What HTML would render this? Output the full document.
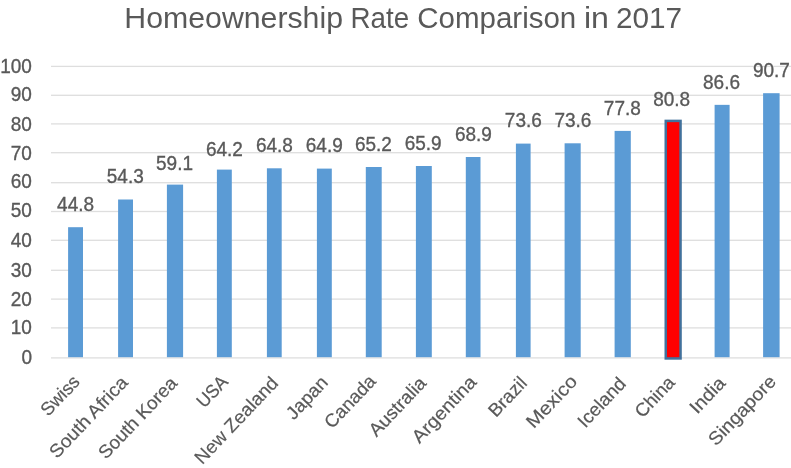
<!DOCTYPE html>
<html><head><meta charset="utf-8"><style>
html,body{margin:0;padding:0;background:#fff;width:791px;height:468px;overflow:hidden}
svg{display:block;will-change:transform}
text{font-family:"Liberation Sans",sans-serif;fill:#595959;stroke:#595959;stroke-width:0.35px}
.t{font-size:19.6px}
.l{font-size:18.5px;stroke-width:0.2px}
.title{font-size:30.0px;stroke-width:0.0px}
</style></head><body>
<svg width="791" height="468" viewBox="0 0 791 468">
<rect x="51" y="357.25" width="749" height="1.3" fill="#dedede"/>
<rect x="51" y="327.25" width="749" height="1.3" fill="#dedede"/>
<rect x="51" y="298.45" width="749" height="1.3" fill="#dedede"/>
<rect x="51" y="269.65" width="749" height="1.3" fill="#dedede"/>
<rect x="51" y="239.65" width="749" height="1.3" fill="#dedede"/>
<rect x="51" y="210.85" width="749" height="1.3" fill="#dedede"/>
<rect x="51" y="182.05" width="749" height="1.3" fill="#dedede"/>
<rect x="51" y="152.05" width="749" height="1.3" fill="#dedede"/>
<rect x="51" y="123.25" width="749" height="1.3" fill="#dedede"/>
<rect x="51" y="94.65" width="749" height="1.3" fill="#dedede"/>
<rect x="51" y="65.75" width="749" height="1.3" fill="#dedede"/>
<text transform="translate(32.02,363.87) scale(0.97,1)" text-anchor="end" class="t" id="y0">0</text>
<text transform="translate(31.84,334.44) scale(0.97,1)" text-anchor="end" class="t" id="y10">10</text>
<text transform="translate(31.84,305.64) scale(0.97,1)" text-anchor="end" class="t" id="y20">20</text>
<text transform="translate(31.84,276.57) scale(0.97,1)" text-anchor="end" class="t" id="y30">30</text>
<text transform="translate(31.84,247.26) scale(0.97,1)" text-anchor="end" class="t" id="y40">40</text>
<text transform="translate(31.84,217.26) scale(0.97,1)" text-anchor="end" class="t" id="y50">50</text>
<text transform="translate(31.84,188.13) scale(0.97,1)" text-anchor="end" class="t" id="y60">60</text>
<text transform="translate(31.84,159.90) scale(0.97,1)" text-anchor="end" class="t" id="y70">70</text>
<text transform="translate(31.84,130.65) scale(0.97,1)" text-anchor="end" class="t" id="y80">80</text>
<text transform="translate(31.84,101.15) scale(0.97,1)" text-anchor="end" class="t" id="y90">90</text>
<text transform="translate(31.84,72.52) scale(0.97,1)" text-anchor="end" class="t" id="y100">100</text>
<rect x="68.10" y="227.20" width="14.90" height="130.00" fill="#5b9bd5"/>
<rect x="118.10" y="199.50" width="14.90" height="157.70" fill="#5b9bd5"/>
<rect x="166.90" y="184.60" width="16.20" height="172.60" fill="#5b9bd5"/>
<rect x="216.90" y="169.60" width="14.90" height="187.60" fill="#5b9bd5"/>
<rect x="266.90" y="168.30" width="14.80" height="188.90" fill="#5b9bd5"/>
<rect x="316.90" y="168.60" width="14.90" height="188.60" fill="#5b9bd5"/>
<rect x="365.80" y="167.00" width="15.90" height="190.20" fill="#5b9bd5"/>
<rect x="415.90" y="166.00" width="15.90" height="191.20" fill="#5b9bd5"/>
<rect x="465.80" y="157.00" width="14.70" height="200.20" fill="#5b9bd5"/>
<rect x="515.90" y="143.60" width="14.70" height="213.60" fill="#5b9bd5"/>
<rect x="564.60" y="143.30" width="16.10" height="213.90" fill="#5b9bd5"/>
<rect x="614.60" y="130.90" width="16.20" height="226.30" fill="#5b9bd5"/>
<rect x="665.75" y="120.90" width="14.80" height="237.55" fill="#ff0000" stroke="#41719c" stroke-width="2.5"/>
<rect x="714.60" y="104.85" width="15.00" height="252.35" fill="#5b9bd5"/>
<rect x="763.10" y="93.20" width="16.50" height="264.00" fill="#5b9bd5"/>
<text transform="translate(75.57,211.12) scale(0.97,1)" text-anchor="middle" class="t" id="d0">44.8</text>
<text transform="translate(125.25,183.28) scale(0.97,1)" text-anchor="middle" class="t" id="d1">54.3</text>
<text transform="translate(174.50,170.40) scale(0.97,1)" text-anchor="middle" class="t" id="d2">59.1</text>
<text transform="translate(224.37,155.53) scale(0.97,1)" text-anchor="middle" class="t" id="d3">64.2</text>
<text transform="translate(274.38,151.87) scale(0.97,1)" text-anchor="middle" class="t" id="d4">64.8</text>
<text transform="translate(324.27,152.17) scale(0.97,1)" text-anchor="middle" class="t" id="d5">64.9</text>
<text transform="translate(373.40,150.68) scale(0.97,1)" text-anchor="middle" class="t" id="d6">65.2</text>
<text transform="translate(423.18,149.90) scale(0.97,1)" text-anchor="middle" class="t" id="d7">65.9</text>
<text transform="translate(473.45,140.50) scale(0.97,1)" text-anchor="middle" class="t" id="d8">68.9</text>
<text transform="translate(523.35,127.17) scale(0.97,1)" text-anchor="middle" class="t" id="d9">73.6</text>
<text transform="translate(572.93,127.05) scale(0.97,1)" text-anchor="middle" class="t" id="d10">73.6</text>
<text transform="translate(622.35,115.33) scale(0.97,1)" text-anchor="middle" class="t" id="d11">77.8</text>
<text transform="translate(671.70,105.58) scale(0.97,1)" text-anchor="middle" class="t" id="d12">80.8</text>
<text transform="translate(721.53,88.50) scale(0.97,1)" text-anchor="middle" class="t" id="d13">86.6</text>
<text transform="translate(771.45,77.22) scale(0.97,1)" text-anchor="middle" class="t" id="d14">90.7</text>
<text transform="translate(80.85,382.80) rotate(-46.5) scale(0.9789,1.0)" text-anchor="end" class="l" id="c0">Swiss</text>
<text transform="translate(128.82,383.55) rotate(-46.5) scale(1.0463,1.0)" text-anchor="end" class="l" id="c1">South Africa</text>
<text transform="translate(178.29,384.05) rotate(-46.5) scale(1.0201,1.0)" text-anchor="end" class="l" id="c2">South Korea</text>
<text transform="translate(229.01,382.80) rotate(-46.5) scale(0.9425,1.0)" text-anchor="end" class="l" id="c3">USA</text>
<text transform="translate(279.23,384.05) rotate(-46.5) scale(1.0267,1.0)" text-anchor="end" class="l" id="c4">New Zealand</text>
<text transform="translate(328.95,383.55) rotate(-46.5) scale(1.0156,1.0)" text-anchor="end" class="l" id="c5">Japan</text>
<text transform="translate(376.92,382.30) rotate(-46.5) scale(1.0069,1.0)" text-anchor="end" class="l" id="c6">Canada</text>
<text transform="translate(427.39,384.05) rotate(-46.5) scale(1.0260,1.0)" text-anchor="end" class="l" id="c7">Australia</text>
<text transform="translate(477.61,383.05) rotate(-46.5) scale(1.0644,1.0)" text-anchor="end" class="l" id="c8">Argentina</text>
<text transform="translate(528.08,384.05) rotate(-46.5) scale(1.0102,1.0)" text-anchor="end" class="l" id="c9">Brazil</text>
<text transform="translate(578.30,382.30) rotate(-46.5) scale(1.1068,1.0)" text-anchor="end" class="l" id="c10">Mexico</text>
<text transform="translate(627.02,384.55) rotate(-46.5) scale(1.0203,1.0)" text-anchor="end" class="l" id="c11">Iceland</text>
<text transform="translate(675.99,383.55) rotate(-46.5) scale(1.0082,1.0)" text-anchor="end" class="l" id="c12">China</text>
<text transform="translate(726.46,384.05) rotate(-46.5) scale(1.0594,1.0)" text-anchor="end" class="l" id="c13">India</text>
<text transform="translate(777.18,382.30) rotate(-46.5) scale(1.0530,1.0)" text-anchor="end" class="l" id="c14">Singapore</text>
<text x="124.36" y="28.3" class="title" textLength="218.62" lengthAdjust="spacingAndGlyphs">Homeownership</text>
<text x="350.50" y="28.3" class="title" textLength="58.64" lengthAdjust="spacingAndGlyphs">Rate</text>
<text x="417.24" y="28.3" class="title" textLength="159.00" lengthAdjust="spacingAndGlyphs">Comparison</text>
<text x="583.98" y="28.3" class="title" textLength="25.02" lengthAdjust="spacingAndGlyphs">in</text>
<text x="615.88" y="28.3" class="title" textLength="66.08" lengthAdjust="spacingAndGlyphs">2017</text>
</svg>
</body></html>
